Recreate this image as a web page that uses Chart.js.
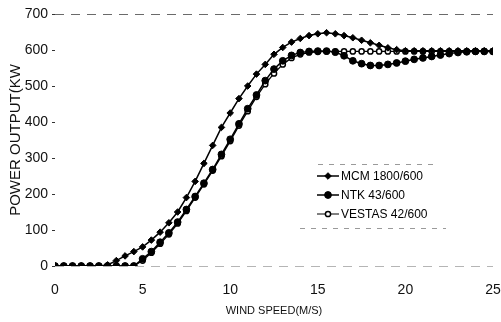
<!DOCTYPE html>
<html>
<head>
<meta charset="utf-8">
<script src="https://cdn.jsdelivr.net/npm/chart.js@4/dist/chart.umd.min.js"></script>
<style>
  html, body { margin: 0; padding: 0; background: #fff; }
  #wrap { width: 501px; height: 322px; position: relative; }
</style>
</head>
<body>
<div id="wrap"><canvas id="c" width="501" height="322"></canvas></div>
<script>
// Wind speed (m/s), every 0.5 m/s
const windSpeed = [0,0.5,1,1.5,2,2.5,3,3.5,4,4.5,5,5.5,6,6.5,7,7.5,8,8.5,9,9.5,10,10.5,11,11.5,12,12.5,13,13.5,14,14.5,15,15.5,16,16.5,17,17.5,18,18.5,19,19.5,20,20.5,21,21.5,22,22.5,23,23.5,24,24.5,25];

// Power output (kW)
const mcm1800 = [0,0,0,0,0,0,3,15,28,40,53,72,94,120,150,190,235,285,335,385,425,465,500,533,560,588,607,622,632,640,645,648,645,640,634,627,620,613,606,601,598,598,598,598,598,598,598,598,598,598,598];
const ntk43 = [0,0,0,0,0,0,0,0,0,0,20,40,66,92,122,157,193,230,268,310,352,395,437,475,515,547,570,585,593,596,597,597,594,584,570,562,557,557,560,564,569,574,578,582,586,590,593,595,596,596,596];
const vestas42 = [0,0,0,0,0,0,0,0,0,0,15,37,62,88,118,153,190,227,265,305,347,390,430,470,505,535,560,578,588,593,595,596,596,596,596,596,596,596,596,596,596,596,596,596,596,596,596,596,596,596,596];

const seriesNames = ["MCM 1800/600", "NTK 43/600", "VESTAS 42/600"];
const xTicks = [0,5,10,15,20,25];
const yTicks = [0,100,200,300,400,500,600,700];

const toXY = arr => arr.map((v,i) => ({x: windSpeed[i], y: v}));

const legendPlugin = {
  id: 'customLegend',
  afterDraw(chart) {
    const ctx = chart.ctx;
    ctx.save();
    // faint dashed frame pieces around legend
    ctx.strokeStyle = '#9a9a9a';
    ctx.lineWidth = 1;
    ctx.setLineDash([5,6]);
    ctx.beginPath(); ctx.moveTo(318,164.5); ctx.lineTo(436,164.5); ctx.stroke();
    ctx.beginPath(); ctx.moveTo(300,228.5); ctx.lineTo(446,228.5); ctx.stroke();
    ctx.setLineDash([]);
    const rows = [176, 195, 214];
    chart.data.datasets.forEach((ds, i) => {
      const y = rows[i];
      ctx.strokeStyle = '#000';
      ctx.lineWidth = i === 2 ? 1 : 1.5;
      ctx.beginPath(); ctx.moveTo(317, y); ctx.lineTo(339, y); ctx.stroke();
      ctx.fillStyle = ds.pointBackgroundColor;
      ctx.strokeStyle = '#000';
      ctx.lineWidth = ds.pointBorderWidth;
      Chart.helpers.drawPoint(ctx, {pointStyle: ds.pointStyle, rotation: 0, radius: ds.pointRadius, borderWidth: ds.pointBorderWidth}, 328, y);
      ctx.fillStyle = '#000';
      ctx.font = '12px "Liberation Sans", Arial, sans-serif';
      ctx.textBaseline = 'middle';
      ctx.textAlign = 'left';
      ctx.fillText(seriesNames[i], 341, y + 0.5);
    });
    ctx.restore();
  }
};

new Chart(document.getElementById('c'), {
  type: 'line',
  data: {
    datasets: [
      { label: seriesNames[0], data: toXY(mcm1800), borderColor: '#000', borderWidth: 1.5,
        pointStyle: 'rectRot', pointRadius: 3.3, pointBackgroundColor: '#000', pointBorderColor: '#000', pointBorderWidth: 1 },
      { label: seriesNames[1], data: toXY(ntk43), borderColor: '#000', borderWidth: 1.5,
        pointStyle: 'circle', pointRadius: 3.4, pointBackgroundColor: '#000', pointBorderColor: '#000', pointBorderWidth: 1 },
      { label: seriesNames[2], data: toXY(vestas42), borderColor: '#000', borderWidth: 1.3,
        pointStyle: 'circle', pointRadius: 2.6, pointBackgroundColor: '#fff', pointBorderColor: '#000', pointBorderWidth: 1.5 }
    ]
  },
  options: {
    responsive: false,
    animation: false,
    layout: { padding: { top: 14, right: 8, left: 0, bottom: 0 } },
    plugins: { legend: { display: false }, tooltip: { enabled: false } },
    scales: {
      x: {
        type: 'linear', min: 0, max: 25,
        afterFit: s => { s.height = 56; },
        afterBuildTicks: s => { s.ticks = xTicks.map(v => ({value: v})); },
        grid: { display: true, drawOnChartArea: false, color: 'rgba(0,0,0,0)',
                drawTicks: true, tickLength: 18, tickColor: 'rgba(0,0,0,0)' },
        border: { display: false },
        ticks: { color: '#111', padding: -2, maxRotation: 0,
                 font: { family: '"Liberation Sans", Arial, sans-serif', size: 14 } },
        title: { display: true, text: 'WIND SPEED(M/S)', color: '#111',
                 font: { family: '"Liberation Sans", Arial, sans-serif', size: 11 },
                 padding: { top: 0, bottom: 4 } }
      },
      y: {
        min: 0, max: 700,
        afterFit: s => { s.width = 55; },
        afterBuildTicks: s => { s.ticks = yTicks.map(v => ({value: v})); },
        grid: {
          color: c => c.tick && c.tick.value === 700 ? '#6a6a6a' : (c.tick && c.tick.value === 0 ? '#b5b5b5' : 'rgba(0,0,0,0)'),
          lineWidth: 1,
          drawTicks: true, tickLength: 3, tickColor: '#333', tickWidth: 1
        },
        border: { display: false, dash: [9,7] },
        ticks: { color: '#111', padding: 4,
                 font: { family: '"Liberation Sans", Arial, sans-serif', size: 14 } },
        title: { display: true, text: 'POWER OUTPUT(KW', color: '#111',
                 font: { family: '"Liberation Sans", Arial, sans-serif', size: 15 },
                 padding: { top: 7, bottom: 0 } }
      }
    }
  },
  plugins: [legendPlugin]
});
</script>
</body>
</html>
